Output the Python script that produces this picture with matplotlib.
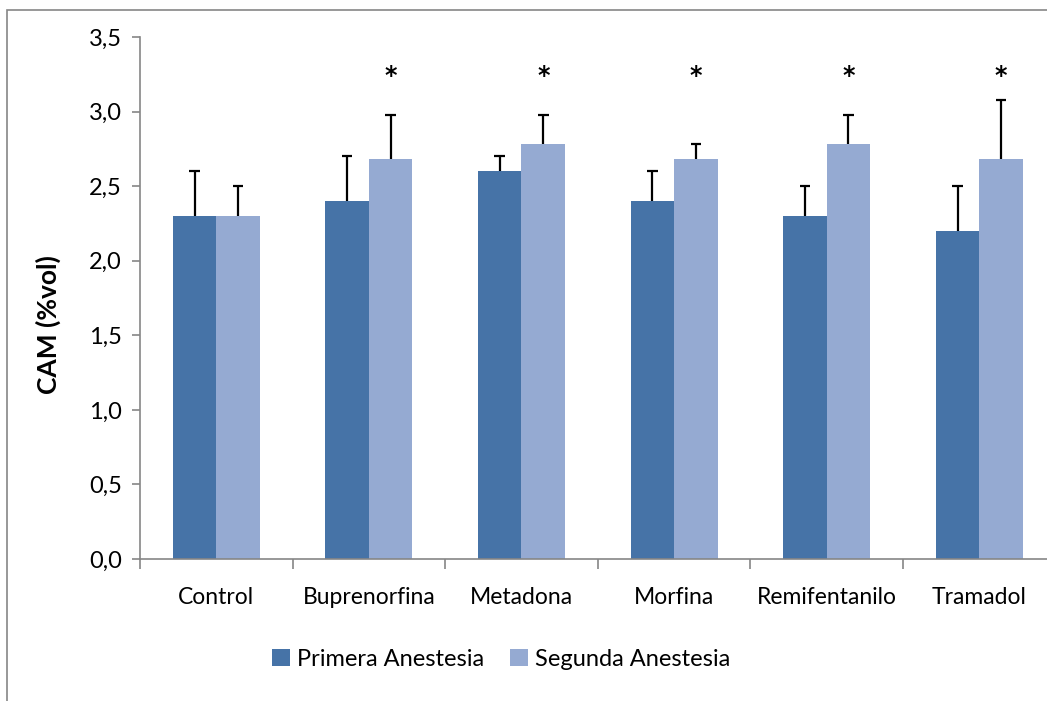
import numpy as np
import matplotlib.pyplot as plt
from matplotlib.patches import Rectangle

plt.rcParams['font.family'] = ['Lato', 'DejaVu Sans']

# Datos de CAM por grupo
grupos = ['Control', 'Buprenorfina', 'Metadona', 'Morfina', 'Remifentanilo', 'Tramadol']
primera = [2.3, 2.4, 2.6, 2.4, 2.3, 2.2]
segunda = [2.3, 2.68, 2.78, 2.68, 2.78, 2.68]
err_primera = [0.3, 0.3, 0.1, 0.2, 0.2, 0.3]
err_segunda = [0.2, 0.3, 0.2, 0.1, 0.2, 0.4]
signif = [False, True, True, True, True, True]

col1 = '#4673A7'
col2 = '#95AAD2'
gris = '#868686'

fig = plt.figure(figsize=(10.47, 7.01), dpi=100)
ax = fig.add_axes([140 / 1047, 142 / 701, 915.6 / 1047, 522 / 701])

# Marco del gráfico
fig.patches.append(Rectangle((7 / 1047, -0.1), 1.2, (691 / 701) + 0.1,
                             transform=fig.transFigure, fill=False,
                             edgecolor=gris, lw=1.2))

x = np.arange(len(grupos))
w = 0.285
ax.bar(x - w / 2, primera, w, color=col1, label='Primera Anestesia', zorder=2)
ax.bar(x + w / 2, segunda, w, color=col2, label='Segunda Anestesia', zorder=2)

# Barras de error solo hacia arriba (sin tapa inferior)
cap = 0.035
for xs, vals, errs in [(x - w / 2, primera, err_primera), (x + w / 2, segunda, err_segunda)]:
    tops = np.array(vals) + np.array(errs)
    ax.vlines(xs, vals, tops, color='black', lw=1.6, zorder=3)
    ax.hlines(tops, xs - cap, xs + cap, color='black', lw=1.6, zorder=3)

# Asteriscos de significación
for i, s in enumerate(signif):
    if s:
        ax.text(x[i] + w / 2, 3.19, '*', ha='center', va='baseline',
                fontsize=17, fontweight='bold', family='DejaVu Sans')

ax.set_xlim(-0.5, len(grupos) - 0.5)
ax.set_ylim(0, 3.5)
ax.set_yticks(np.arange(0, 3.51, 0.5))
ax.set_yticklabels([f'{v:.1f}'.replace('.', ',') for v in np.arange(0, 3.51, 0.5)])
ax.set_xticks(np.arange(-0.5, len(grupos), 1.0))
ax.set_xticklabels([])
ax.set_xticks(x, minor=True)
ax.set_xticklabels(grupos, minor=True)
ax.tick_params(axis='x', which='minor', length=0, pad=20, labelsize=16.5)
ax.tick_params(axis='x', which='major', length=7, color=gris, width=1.2)
ax.tick_params(axis='y', length=6, color=gris, width=1.2, labelsize=17, pad=7)
ax.set_ylabel('CAM (%vol)', fontsize=19, fontweight='bold')
ax.yaxis.set_label_coords(-0.086, 0.45)

for side in ['top', 'right']:
    ax.spines[side].set_visible(False)
for side in ['left', 'bottom']:
    ax.spines[side].set_color(gris)
    ax.spines[side].set_linewidth(1.2)

fig.legend(loc='center', bbox_to_anchor=(501 / 1047, 1 - 659 / 701), ncol=2,
           frameon=False, fontsize=17, handlelength=0.75, handleheight=0.75,
           handletextpad=0.3, columnspacing=1.1)

fig.savefig('out.png', dpi=100)
